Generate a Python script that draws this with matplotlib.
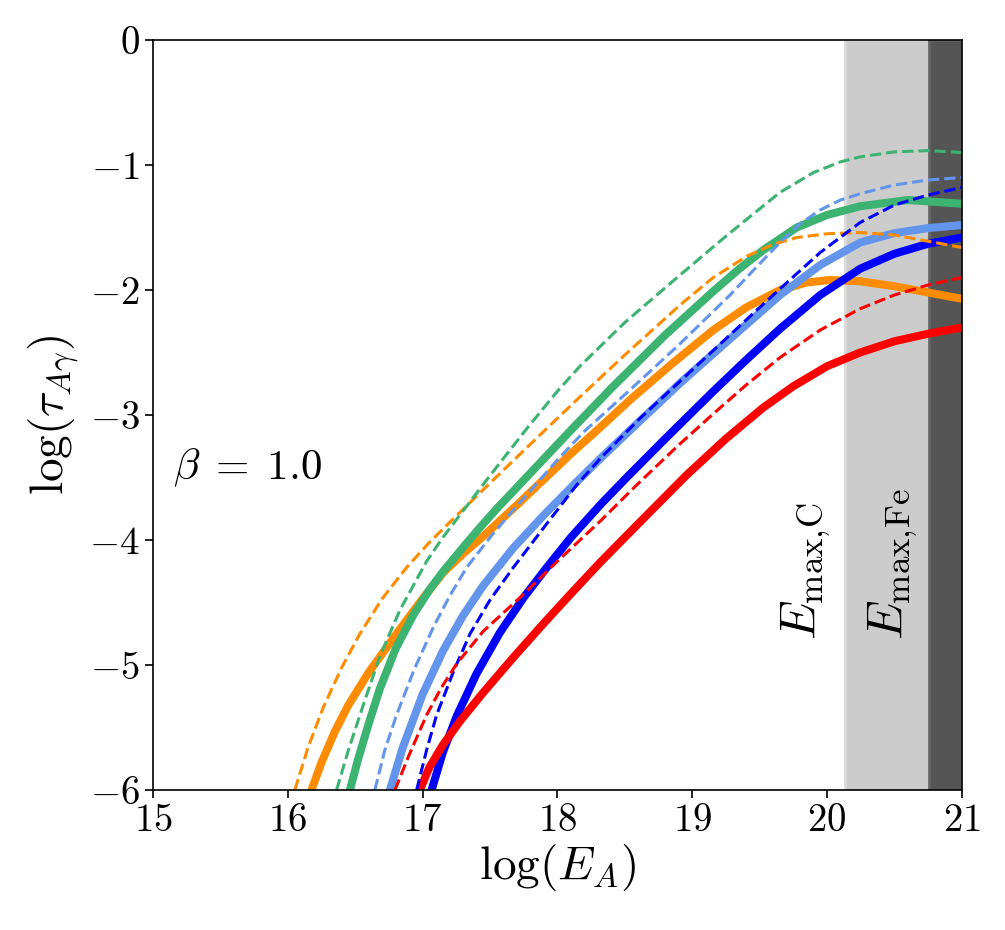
import numpy as np
import matplotlib.pyplot as plt

plt.rcParams['mathtext.fontset'] = 'cm'
plt.rcParams['font.family'] = 'serif'
plt.rcParams['font.serif'] = ['cmr10', 'DejaVu Serif']
plt.rcParams['axes.formatter.use_mathtext'] = True

# curves: (log E, log tau); solid = thick lines, dashed = thin lines
orange_x = [16.176, 16.25, 16.35, 16.45, 16.6, 16.8, 17.0, 17.154, 17.3, 17.45, 17.7, 17.846, 18.1, 18.317, 18.538, 18.85, 19.157, 19.4, 19.652, 19.85, 20.023, 20.246, 20.5, 20.75, 21.0]
orange_y = [-6.0, -5.78, -5.53, -5.32, -5.06, -4.76, -4.47, -4.26, -4.11, -3.97, -3.72, -3.57, -3.31, -3.10, -2.88, -2.59, -2.32, -2.14, -2.00, -1.94, -1.92, -1.93, -1.97, -2.02, -2.07]
green_x = [16.461, 16.52, 16.6, 16.683, 16.8, 16.931, 17.05, 17.154, 17.3, 17.426, 17.55, 17.673, 17.9, 18.119, 18.415, 18.8, 19.157, 19.35, 19.528, 19.776, 20.0, 20.246, 20.6, 21.0]
green_y = [-6.0, -5.76, -5.47, -5.19, -4.87, -4.60, -4.40, -4.25, -4.06, -3.90, -3.75, -3.61, -3.35, -3.10, -2.77, -2.36, -2.01, -1.83, -1.68, -1.50, -1.40, -1.33, -1.28, -1.31]
lblue_x = [16.758, 16.85, 17.0, 17.15, 17.3, 17.45, 17.673, 17.9, 18.143, 18.317, 18.6, 18.91, 19.25, 19.652, 19.95, 20.246, 20.5, 20.75, 21.0]
lblue_y = [-6.0, -5.67, -5.235, -4.89, -4.605, -4.365, -4.064, -3.80, -3.535, -3.35, -3.06, -2.745, -2.42, -2.04, -1.80, -1.62, -1.545, -1.505, -1.48]
blue_x = [17.067, 17.15, 17.253, 17.4, 17.574, 17.75, 17.921, 18.1, 18.317, 18.514, 18.8, 19.157, 19.4, 19.652, 19.95, 20.246, 20.5, 20.75, 21.0]
blue_y = [-6.0, -5.70, -5.41, -5.07, -4.74, -4.46, -4.22, -3.98, -3.72, -3.50, -3.19, -2.81, -2.56, -2.31, -2.04, -1.83, -1.71, -1.63, -1.58]
red_x = [16.98, 17.05, 17.15, 17.277, 17.45, 17.673, 17.9, 18.1, 18.317, 18.6, 18.959, 19.25, 19.528, 19.75, 20.0, 20.246, 20.5, 20.75, 21.0]
red_y = [-6.0, -5.82, -5.64, -5.45, -5.22, -4.94, -4.665, -4.43, -4.18, -3.87, -3.48, -3.19, -2.94, -2.77, -2.61, -2.50, -2.41, -2.35, -2.30]

orange_d_x = [16.052, 16.15, 16.263, 16.4, 16.535, 16.7, 16.881, 17.05, 17.228, 17.5, 17.75, 17.921, 18.167, 18.5, 18.91, 19.15, 19.405, 19.6, 19.776, 20.0, 20.246, 20.5, 20.75, 21.0]
orange_d_y = [-6.0, -5.66, -5.34, -5.02, -4.75, -4.47, -4.22, -4.02, -3.83, -3.545, -3.285, -3.108, -2.855, -2.52, -2.12, -1.905, -1.73, -1.635, -1.58, -1.55, -1.54, -1.56, -1.61, -1.66]
green_d_x = [16.362, 16.45, 16.56, 16.683, 16.832, 17.03, 17.15, 17.277, 17.5, 17.772, 18.0, 18.167, 18.5, 18.91, 19.25, 19.65, 19.9, 20.1, 20.246, 20.5, 20.75, 21.0]
green_d_y = [-6.0, -5.68, -5.32, -4.93, -4.56, -4.17, -3.98, -3.80, -3.485, -3.11, -2.81, -2.61, -2.26, -1.88, -1.57, -1.22, -1.06, -0.975, -0.935, -0.895, -0.885, -0.90]
lblue_d_x = [16.646, 16.72, 16.807, 16.94, 17.079, 17.2, 17.327, 17.5, 17.673, 17.846, 18.0, 18.2, 18.538, 18.9, 19.281, 19.5, 19.652, 19.8, 19.95, 20.1, 20.246, 20.5, 20.75, 21.0]
lblue_d_y = [-6.0, -5.68, -5.40, -5.03, -4.70, -4.45, -4.22, -3.98, -3.76, -3.55, -3.36, -3.13, -2.80, -2.44, -2.04, -1.79, -1.62, -1.47, -1.36, -1.28, -1.23, -1.16, -1.12, -1.10]
blue_d_x = [16.956, 17.03, 17.104, 17.23, 17.352, 17.5, 17.673, 17.921, 18.143, 18.317, 18.6, 18.91, 19.2, 19.45, 19.652, 19.95, 20.246, 20.5, 20.75, 21.0]
blue_d_y = [-6.0, -5.68, -5.40, -5.05, -4.75, -4.48, -4.22, -3.87, -3.56, -3.35, -3.04, -2.73, -2.44, -2.19, -1.99, -1.70, -1.46, -1.32, -1.24, -1.18]
red_d_x = [16.795, 16.9, 17.03, 17.14, 17.253, 17.45, 17.723, 18.0, 18.317, 18.588, 18.9, 19.157, 19.4, 19.652, 19.95, 20.246, 20.5, 20.75, 21.0]
red_d_y = [-6.0, -5.72, -5.40, -5.18, -4.99, -4.73, -4.46, -4.17, -3.85, -3.56, -3.24, -2.99, -2.76, -2.54, -2.32, -2.15, -2.04, -1.96, -1.90]

e_max_c = 20.13
e_max_fe = 20.76

fig = plt.figure(figsize=(10.05, 9.3), dpi=100)
ax = fig.add_axes([0.1522, 0.1505, 0.8048, 0.8065])

ax.axvspan(e_max_c, e_max_fe, facecolor='#cccccc', edgecolor='#d9d9d9', lw=2, zorder=0)
ax.axvspan(e_max_fe, 21, facecolor='#555555', edgecolor='#666666', lw=2, zorder=0)

lw_s = 5.8
lw_d = 2.2
solid = [(orange_x, orange_y, 'darkorange'), (green_x, green_y, 'mediumseagreen'),
         (lblue_x, lblue_y, 'cornflowerblue'), (blue_x, blue_y, 'blue'), (red_x, red_y, 'red')]
dashed = [(orange_d_x, orange_d_y, 'darkorange'), (green_d_x, green_d_y, 'mediumseagreen'),
          (lblue_d_x, lblue_d_y, 'cornflowerblue'), (blue_d_x, blue_d_y, 'blue'), (red_d_x, red_d_y, 'red')]
for x, y, c in solid:
    ax.plot(x, y, color=c, lw=lw_s, solid_joinstyle='round')
for x, y, c in dashed:
    ax.plot(x, y, '--', color=c, lw=lw_d)

ax.text(15.15, -3.42, r'$\beta\;=\;1.0$', fontsize=31, va='center', ha='left')
ax.text(19.84, -4.8, r'$E_{\mathrm{max},\!\mathrm{C}}$', fontsize=36, rotation=90, ha='center', va='bottom')
ax.text(20.49, -4.8, r'$E_{\mathrm{max},\!\mathrm{Fe}}$', fontsize=36, rotation=90, ha='center', va='bottom')

ax.set_xlim(15, 21)
ax.set_ylim(-6, 0)
ax.set_xticks(range(15, 22))
ax.set_yticks(range(-6, 1))
ax.xaxis.set_major_formatter(plt.FuncFormatter(lambda v, p: f'${v:.0f}$'))
ax.yaxis.set_major_formatter(plt.FuncFormatter(lambda v, p: f'${v:.0f}$'))
ax.tick_params(labelsize=28, length=6, width=1.2)
for s in ax.spines.values():
    s.set_linewidth(1.2)
ax.set_xlabel(r'$\log(E_A)$', fontsize=34, labelpad=2)
ax.set_ylabel(r'$\log(\tau_{A\gamma})$', fontsize=34, labelpad=6)

fig.savefig('out.png', dpi=100)
